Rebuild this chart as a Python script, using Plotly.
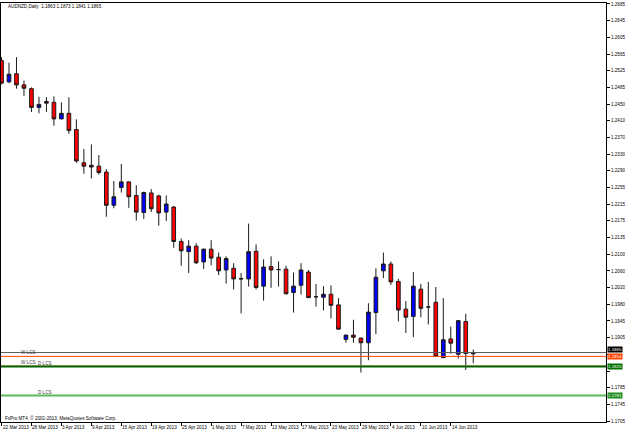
import plotly.graph_objects as go
import pandas as pd

chart_title = "AUDNZD,Daily  1.1863 1.1873 1.1841 1.1865"
copyright_text = "FxPro MT4, \u00a9 2001-2013, MetaQuotes Software Corp."

dates = pd.bdate_range("2013-03-22", "2013-06-19")

opens = [1.2552, 1.2502, 1.2521, 1.2495, 1.2486, 1.2442, 1.2456, 1.2454, 1.2415, 1.2428,
         1.2390, 1.2312, 1.2306, 1.2304, 1.2290, 1.2212, 1.2254, 1.2267, 1.2235, 1.2195,
         1.2241, 1.2234, 1.2196, 1.2208, 1.2127, 1.2103, 1.2116, 1.2079, 1.2109, 1.2090,
         1.2060, 1.2064, 1.2040, 1.2039, 1.2104, 1.2022, 1.2068, 1.2061, 1.2062, 1.2007,
         1.2024, 1.2055, 1.1997, 1.1996, 1.2003, 1.1978, 1.1897, 1.1907, 1.1900, 1.1889,
         1.1960, 1.2058, 1.2074, 1.2033, 1.1968, 1.1951, 1.2015, 1.1973, 1.1984, 1.1854,
         1.1898, 1.1862, 1.1939, 1.1863]
highs = [1.2560, 1.2547, 1.2560, 1.2505, 1.2489, 1.2467, 1.2466, 1.2468, 1.2454, 1.2466,
         1.2414, 1.2344, 1.2355, 1.2330, 1.2297, 1.2269, 1.2309, 1.2268, 1.2259, 1.2244,
         1.2250, 1.2237, 1.2235, 1.2210, 1.2134, 1.2130, 1.2123, 1.2110, 1.2130, 1.2101,
         1.2092, 1.2076, 1.2053, 1.2169, 1.2120, 1.2085, 1.2092, 1.2080, 1.2070, 1.2054,
         1.2076, 1.2060, 1.2027, 1.2022, 1.2024, 1.1994, 1.1908, 1.1943, 1.1901, 1.1982,
         1.2064, 1.2101, 1.2080, 1.2039, 1.1987, 1.2055, 1.2027, 1.2032, 1.2020, 1.1994,
         1.1927, 1.1942, 1.1957, 1.1873]
lows = [1.2496, 1.2499, 1.2486, 1.2469, 1.2431, 1.2428, 1.2431, 1.2399, 1.2414, 1.2380,
        1.2312, 1.2286, 1.2275, 1.2284, 1.2185, 1.2205, 1.2242, 1.2206, 1.2176, 1.2180,
        1.2196, 1.2164, 1.2175, 1.2112, 1.2070, 1.2053, 1.2074, 1.2062, 1.2071, 1.2048,
        1.2028, 1.2014, 1.1958, 1.2021, 1.2014, 1.1988, 1.2018, 1.2021, 1.2003, 1.1960,
        1.2002, 1.1994, 1.1974, 1.1965, 1.1946, 1.1920, 1.1889, 1.1889, 1.1819, 1.1848,
        1.1909, 1.2041, 1.2025, 1.1939, 1.1912, 1.1902, 1.1949, 1.1932, 1.1856, 1.1853,
        1.1863, 1.1852, 1.1825, 1.1841]
closes = [1.2499, 1.2520, 1.2495, 1.2487, 1.2442, 1.2449, 1.2452, 1.2415, 1.2428, 1.2388,
          1.2316, 1.2304, 1.2302, 1.2289, 1.2212, 1.2232, 1.2267, 1.2232, 1.2196, 1.2242,
          1.2204, 1.2194, 1.2215, 1.2127, 1.2105, 1.2116, 1.2077, 1.2109, 1.2088, 1.2058,
          1.2087, 1.2039, 1.2039, 1.2103, 1.2019, 1.2067, 1.2060, 1.2061, 1.2004, 1.2022,
          1.2060, 1.1995, 1.1997, 1.2003, 1.1977, 1.1921, 1.1907, 1.1902, 1.1889, 1.1961,
          1.2043, 1.2074, 1.2032, 1.1966, 1.1949, 1.2022, 1.1970, 1.1973, 1.1857, 1.1896,
          1.1888, 1.1941, 1.1864, 1.1865]

# horizontal levels
level_values = [1.1866, 1.1857, 1.1835, 1.1833, 1.1765]
level_colors = ["#5a5a5a", "#FF4500", "#F4A582", "#006400", "#5CB85C"]
level_widths = [1, 1, 1, 2, 2]

# right-hand price boxes
box_values = [1.1866, 1.1857, 1.1833, 1.1765]
box_texts = ["1.1865", "1.1854", "1.1825", "1.1781"]
box_colors = ["#000000", "#FF4500", "#007000", "#1E8C1E"]
box_anchor = ["bottom", "middle", "middle", "middle"]

# object labels
obj_texts = ["W LCS", "W LCS", "D LCS", "D LCS"]
obj_bar = [2.5, 2.5, 4.7, 4.7]
obj_values = [1.1857, 1.1835, 1.1833, 1.1765]

# y tick labels (the ones hidden behind price boxes are omitted)
ytick_texts = ["1.2685", "1.2645", "1.2605", "1.2565", "1.2525", "1.2485", "1.2450",
               "1.2410", "1.2370", "1.2330", "1.2290", "1.2255", "1.2215", "1.2175",
               "1.2135", "1.2100", "1.2060", "1.2020", "1.1980", "1.1945", "1.1905",
               "", "", "1.1785", "1.1745", "1.1705"]
ytick_top, ytick_bottom = 1.2685, 1.1705

date_step = 4

W, H = 625, 433
FONT = "Liberation Sans"
FS = 4.6

n = len(opens)
xs = list(range(n))

fig = go.Figure()
fig.add_trace(go.Candlestick(
    x=xs, open=opens, high=highs, low=lows, close=closes,
    increasing=dict(line=dict(color="#1a1a1a", width=1), fillcolor="#0000FF"),
    decreasing=dict(line=dict(color="#1a1a1a", width=1), fillcolor="#FF0000"),
    whiskerwidth=0, showlegend=False, hoverinfo="skip",
))

for v, c, w in zip(level_values, level_colors, level_widths):
    fig.add_shape(type="line", xref="x domain", yref="y", x0=0, x1=1, y0=v, y1=v,
                  line=dict(color=c, width=w), layer="above")

annotations = []
for v, t, c, a in zip(box_values, box_texts, box_colors, box_anchor):
    annotations.append(dict(xref="paper", yref="y", x=607 / W, y=v, xanchor="left",
                            yanchor=a, text=t, showarrow=False, bgcolor=c,
                            borderpad=0, font=dict(family=FONT, size=4.4, color="white")))
for t, b, v in zip(obj_texts, obj_bar, obj_values):
    annotations.append(dict(xref="x", yref="y", x=b, y=v, xanchor="left", yanchor="bottom",
                            text=t, showarrow=False, borderpad=0,
                            font=dict(family=FONT, size=FS, color="#404040")))
for i in range(0, n, date_step):
    d = dates[i]
    annotations.append(dict(xref="x", yref="paper", x=i, y=1 - 425.5 / H, xanchor="left",
                            yanchor="top", text=f"{d.day} {d:%b %Y}", showarrow=False,
                            borderpad=0, font=dict(family=FONT, size=FS, color="black")))
annotations.append(dict(xref="paper", yref="paper", x=6 / W, y=1 - 5.5 / H, xanchor="left",
                        yanchor="middle", text=chart_title, showarrow=False, borderpad=0,
                        font=dict(family=FONT, size=FS, color="black")))
annotations.append(dict(xref="paper", yref="paper", x=3 / W, y=1 - 420 / H, xanchor="left",
                        yanchor="middle", text=copyright_text, showarrow=False, borderpad=0,
                        font=dict(family=FONT, size=FS, color="black")))

nt = len(ytick_texts)
ytick_vals = [ytick_top - k * (ytick_top - ytick_bottom) / (nt - 1) for k in range(nt)]

# price scale: 1.2692 at image row 0, 0.00023333 per pixel
def row_price(r):
    return 1.2692 - r * 0.098 / 420

fig.update_layout(
    width=W, height=H, margin=dict(l=0, r=0, t=0, b=0),
    paper_bgcolor="white", plot_bgcolor="white",
    annotations=annotations,
    xaxis=dict(domain=[0, 606 / W], range=[-0.067, 80.733], showgrid=False, zeroline=False,
               showline=True, linecolor="#000000", linewidth=1, mirror=True,
               ticks="outside", ticklen=3, tickcolor="#000000",
               tickvals=list(range(0, n, date_step)), showticklabels=False,
               rangeslider=dict(visible=False), fixedrange=True),
    yaxis=dict(domain=[(H - 424) / H, (H - 2) / H], side="right",
               range=[row_price(424), row_price(2)], showgrid=False, zeroline=False,
               showline=True, linecolor="#000000", linewidth=1, mirror=True,
               ticks="outside", ticklen=3, tickcolor="#000000",
               tickvals=ytick_vals, ticktext=ytick_texts,
               tickfont=dict(family=FONT, size=FS, color="black"), fixedrange=True),
    font=dict(family=FONT, size=FS),
)

fig.write_html("out.html")
